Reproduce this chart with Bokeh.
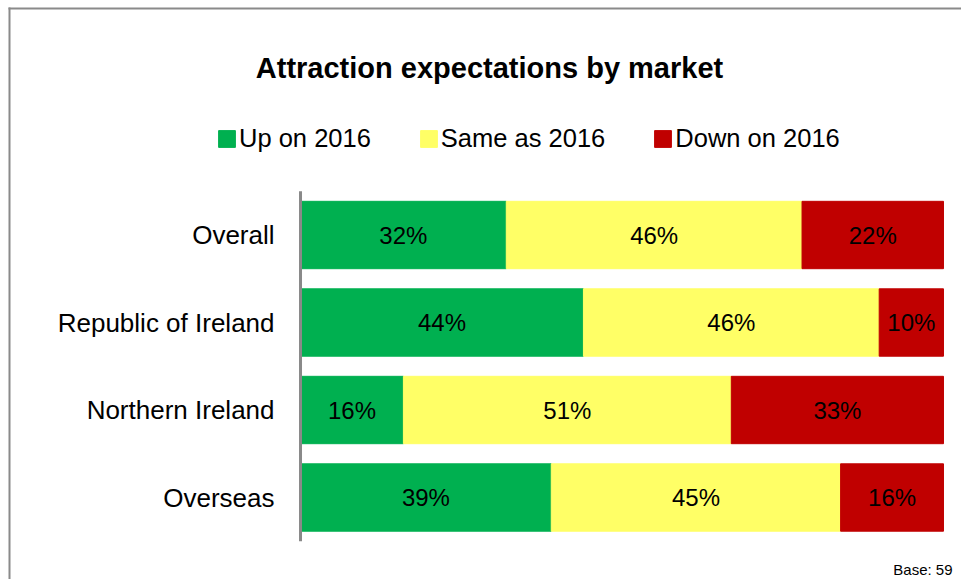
from bokeh.plotting import figure
from bokeh.models import (Range1d, Label, ColumnDataSource, Legend,
                          LegendItem, BoxAnnotation)
from bokeh.embed import file_html
from bokeh.resources import INLINE
from bokeh.core.properties import value

# ---- data ----
markets = ["Overall", "Republic of Ireland", "Northern Ireland", "Overseas"]
up_on_2016 = [32, 44, 16, 39]
same_as_2016 = [46, 46, 51, 45]
down_on_2016 = [22, 10, 33, 16]
series_names = ["Up on 2016", "Same as 2016", "Down on 2016"]
series_colors = ["#00B050", "#FFFF66", "#C00000"]
chart_title = "Attraction expectations by market"
base_note = "Base: 59"

FONT = "Liberation Sans"
W, H = 961, 579
BORDER = "#8a8a8a"

# category slots: Overall on top
ypos = [len(markets) - 1 - i for i in range(len(markets))]

p = figure(
    width=W, height=H,
    x_range=Range1d(-46.66, 102.8),
    y_range=Range1d(-0.937, 5.68),
    output_backend="svg", toolbar_location=None,
    min_border=0, x_axis_location=None, y_axis_location=None,
)
p.outline_line_color = None
p.grid.visible = False

# outer chart-area border (only left and top edges visible)
box_kw = dict(left_units="screen", right_units="screen", top_units="screen",
              bottom_units="screen", fill_color=BORDER, fill_alpha=1, line_color=None)
p.add_layout(BoxAnnotation(left=8, right=10, top=H - 7, bottom=-10, **box_kw))
p.add_layout(BoxAnnotation(left=8, right=W + 10, top=H - 7, bottom=H - 9, **box_kw))

src = ColumnDataSource(dict(y=ypos, market=markets, up=up_on_2016,
                            same=same_as_2016, down=down_on_2016))
renderers = p.hbar_stack(["up", "same", "down"], y="y", height=0.77,
                         color=series_colors, source=src)

# category axis line and labels
p.segment(x0=0, y0=min(ypos) - 0.5, x1=0, y1=max(ypos) + 0.5,
          line_color="#898989", line_width=3)
p.text(x=[0] * len(markets), y=ypos, text=markets, x_offset=-26,
       text_align="right", text_baseline="middle",
       text_font=value(FONT), text_font_size="26px", text_color="black")

# value labels
xs, ys, txt = [], [], []
for i, yv in enumerate(ypos):
    left = 0
    for vals in (up_on_2016, same_as_2016, down_on_2016):
        v = vals[i]
        xs.append(left + v / 2)
        ys.append(yv)
        txt.append(f"{v}%")
        left += v
p.text(x=xs, y=ys, text=txt, text_align="center", text_baseline="middle",
       text_font=value(FONT), text_font_size="24px", text_color="black")

leg = Legend(items=[LegendItem(label=n, renderers=[r]) for n, r in zip(series_names, renderers)])
leg.orientation = "horizontal"
leg.location = (216, 426)
leg.border_line_color = None
leg.background_fill_alpha = 0
leg.padding = 0
leg.margin = 0
leg.glyph_width = 21
leg.glyph_height = 21
leg.label_standoff = 2
leg.spacing = 47
leg.label_text_font = FONT
leg.label_text_font_size = "25.5px"
leg.label_text_color = "black"
p.add_layout(leg, "center")

# title
p.add_layout(Label(x=489, y=H - 67, x_units="screen", y_units="screen", text=chart_title,
                   text_align="center", text_baseline="middle",
                   text_font=FONT, text_font_size="29px", text_font_style="bold",
                   text_color="black"))

p.add_layout(Label(x=952, y=H - 569, x_units="screen", y_units="screen", text=base_note,
                   text_align="right", text_baseline="middle",
                   text_font=FONT, text_font_size="15px", text_color="black"))

open("out.html", "w").write(file_html(p, INLINE))
